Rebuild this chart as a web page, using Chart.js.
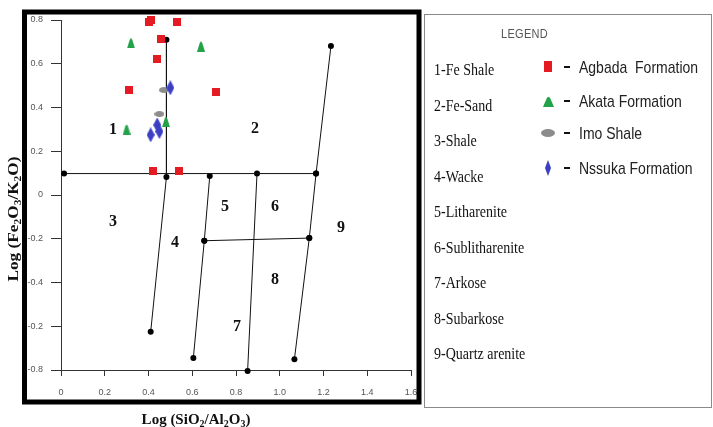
<!DOCTYPE html>
<html>
<head>
<meta charset="utf-8">
<script src="https://cdn.jsdelivr.net/npm/chart.js@4.4.1/dist/chart.umd.min.js"></script>
<style>
  body { margin: 0; background: #fff; }
  #wrap { position: relative; width: 713px; height: 427px; overflow: hidden; }
  #chart { position: absolute; left: 0; top: 0; }
  #legend { position: absolute; left: 424px; top: 14px; width: 288px; height: 394px;
            border: 1px solid #8a8a8a; box-sizing: border-box; }
  #legend div { position: absolute; white-space: nowrap; line-height: 20px; height: 20px; }
  .title { font: 11px "Liberation Sans", Arial, sans-serif; color: #555; letter-spacing: 0.3px; }
  .cls { font: 14px "Liberation Serif", "Times New Roman", serif; color: #111; }
  .ser { font: 14px "Liberation Sans", Arial, sans-serif; color: #222; }
  .stretch { display: inline-block; transform: scaleY(1.15); transform-origin: left center; }
  .dash { position: absolute; height: 2px; width: 6px; background: #111; }
  canvas.mk { position: absolute; }
</style>
</head>
<body>
<div id="wrap">
  <canvas id="chart" width="713" height="427"></canvas>
  <div id="legend"></div>
</div>
<script>
// sample points (x = log SiO2/Al2O3, y = log Fe2O3/K2O)
const agbadaX = [0.41, 0.40, 0.53, 0.455, 0.44, 0.31, 0.71, 0.42, 0.54];
const agbadaY = [0.80, 0.79, 0.79, 0.715, 0.62, 0.48, 0.47, 0.11, 0.11];
const akataX = [0.32, 0.64, 0.30, 0.48];
const akataY = [0.695, 0.68, 0.30, 0.335];
const imoX = [0.47, 0.45];
const imoY = [0.48, 0.37];
const nssukaX = [0.50, 0.44, 0.45, 0.41];
const nssukaY = [0.49, 0.32, 0.29, 0.275];

// classification field boundaries
const feLineX = [0.014, 1.166];
const feLineY = [0.098, 0.098];
const shaleLineX = [0.482, 0.482, 0.41];
const shaleLineY = [0.71, 0.082, -0.625];
const wackeLineX = [0.68, 0.655, 0.605];
const wackeLineY = [0.087, -0.209, -0.745];
const arkoseLineX = [0.896, 0.853];
const arkoseLineY = [0.098, -0.805];
const quartzLineX = [1.234, 1.166, 1.135, 1.067];
const quartzLineY = [0.681, 0.098, -0.197, -0.751];
const subLineX = [0.655, 1.135];
const subLineY = [-0.209, -0.197];

// field numbers
const regionNames = ['1', '2', '3', '4', '5', '6', '7', '8', '9'];
const regionX = [0.238, 0.887, 0.238, 0.521, 0.75, 0.978, 0.805, 0.978, 1.28];
const regionY = [0.297, 0.302, -0.123, -0.219, -0.055, -0.055, -0.603, -0.389, -0.151];

// tick labels as printed (bottom to top for y)
const xTickLabels = ['0', '0.2', '0.4', '0.6', '0.8', '1.0', '1.2', '1.4', '1.6'];
const yTickLabels = ['-0.8', '-0.2', '-0.4', '-0.2', '0', '0.2', '0.4', '0.6', '0.8'];

const xTitle = 'Log (SiO_2/Al_2O_3)';
const yTitle = 'Log (Fe_2O_3/K_2O)';

const classNames = ['1-Fe Shale', '2-Fe-Sand', '3-Shale', '4-Wacke', '5-Litharenite',
  '6-Sublitharenite', '7-Arkose', '8-Subarkose', '9-Quartz arenite'];
const seriesNames = ['Agbada  Formation', 'Akata Formation', 'Imo Shale', 'Nssuka Formation'];

const colors = { square: '#e51b24', triangle: '#23a24a', ellipse: '#8c8c8c', diamond: '#3b3fc3' };

// small canvases used as point styles
function markerCanvas(kind, w, h) {
  const c = document.createElement('canvas');
  c.width = w; c.height = h;
  const g = c.getContext('2d');
  g.fillStyle = colors[kind];
  g.beginPath();
  if (kind === 'square') {
    g.rect(0, 0, w, h);
  } else if (kind === 'triangle') {
    g.moveTo(0, h);
    g.lineTo(w * 0.33, h * 0.22);
    g.quadraticCurveTo(w / 2, -h * 0.08, w * 0.67, h * 0.22);
    g.lineTo(w, h);
    g.closePath();
  } else if (kind === 'ellipse') {
    g.ellipse(w / 2, h / 2, w / 2, h / 2, 0, 0, Math.PI * 2);
  } else {
    g.moveTo(w / 2, 0); g.lineTo(w, h / 2); g.lineTo(w / 2, h); g.lineTo(0, h / 2);
    g.closePath();
  }
  g.fill();
  return c;
}

function toPoints(xs, ys) {
  return xs.map((x, i) => ({ x: x, y: ys[i] }));
}

function sampleSet(label, xs, ys, style) {
  return { label: label, data: toPoints(xs, ys), pointStyle: style, pointRadius: 5,
           clip: false, showLine: false };
}

function boundarySet(xs, ys) {
  return { label: 'boundary', data: toPoints(xs, ys), showLine: true, borderColor: '#111',
           borderWidth: 1, pointRadius: 3, pointBackgroundColor: '#000', pointBorderWidth: 0,
           clip: false };
}

// draws text where "_x" means x is a subscript
function drawRich(ctx, text, cx, cy, size) {
  const segs = [];
  for (let i = 0; i < text.length; i++) {
    if (text[i] === '_') { segs.push({ t: text[i + 1], sub: true }); i++; }
    else if (segs.length && !segs[segs.length - 1].sub) segs[segs.length - 1].t += text[i];
    else segs.push({ t: text[i], sub: false });
  }
  const big = 'bold ' + size + 'px "Liberation Serif", serif';
  const small = 'bold ' + Math.round(size * 0.68) + 'px "Liberation Serif", serif';
  let w = 0;
  segs.forEach(s => { ctx.font = s.sub ? small : big; s.w = ctx.measureText(s.t).width; w += s.w; });
  let x = cx - w / 2;
  ctx.textAlign = 'left';
  ctx.textBaseline = 'middle';
  segs.forEach(s => {
    ctx.font = s.sub ? small : big;
    ctx.fillText(s.t, x, s.sub ? cy + size * 0.28 : cy);
    x += s.w;
  });
}

const decorPlugin = {
  id: 'decor',
  afterDatasetsDraw(chart) {
    const ctx = chart.ctx;
    const xs = chart.scales.x, ys = chart.scales.y;
    ctx.save();
    ctx.fillStyle = '#111';
    ctx.font = 'bold 16px "Liberation Serif", serif';
    ctx.textAlign = 'center';
    ctx.textBaseline = 'middle';
    regionNames.forEach((n, i) => {
      ctx.fillText(n, xs.getPixelForValue(regionX[i]), ys.getPixelForValue(regionY[i]));
    });
    ctx.restore();
  },
  afterDraw(chart) {
    const ctx = chart.ctx;
    const a = chart.chartArea;
    ctx.save();
    // heavy frame round the plot
    ctx.strokeStyle = '#000';
    ctx.lineWidth = 5;
    ctx.strokeRect(24.5, 12, 394.5, 390);
    // axis titles
    ctx.fillStyle = '#111';
    drawRich(ctx, xTitle, (a.left + a.right) / 2 - 40, 420, 15);
    ctx.translate(14, (a.top + a.bottom) / 2 + 24);
    ctx.rotate(-Math.PI / 2);
    ctx.scale(1.15, 1);
    drawRich(ctx, yTitle, 0, 0, 15);
    ctx.restore();
  }
};

const tickFont = { family: '"Liberation Sans", Arial, sans-serif', size: 9 };

new Chart(document.getElementById('chart').getContext('2d'), {
  type: 'scatter',
  data: {
    datasets: [
      sampleSet(seriesNames[0], agbadaX, agbadaY, markerCanvas('square', 8, 8)),
      sampleSet(seriesNames[1], akataX, akataY, markerCanvas('triangle', 8, 11)),
      sampleSet(seriesNames[3], nssukaX, nssukaY, markerCanvas('diamond', 8, 15)),
      sampleSet(seriesNames[2], imoX, imoY, markerCanvas('ellipse', 10, 6)),
      boundarySet(feLineX, feLineY),
      boundarySet(shaleLineX, shaleLineY),
      boundarySet(wackeLineX, wackeLineY),
      boundarySet(arkoseLineX, arkoseLineY),
      boundarySet(quartzLineX, quartzLineY),
      boundarySet(subLineX, subLineY)
    ]
  },
  options: {
    responsive: false,
    animation: false,
    layout: { padding: { top: 20, right: 302, bottom: 0, left: 0 } },
    plugins: { legend: { display: false }, tooltip: { enabled: false } },
    scales: {
      x: {
        type: 'linear', min: 0, max: 1.6,
        ticks: { stepSize: 0.2, autoSkip: false, maxRotation: 0, padding: 11, color: '#555',
                 font: tickFont, callback: (v, i) => xTickLabels[i] },
        grid: { drawOnChartArea: false, tickLength: 6, color: '#333' },
        border: { color: '#333', width: 1 },
        afterFit: s => { s.height = 57; }
      },
      y: {
        type: 'linear', min: -0.8, max: 0.8,
        ticks: { stepSize: 0.2, autoSkip: false, padding: 8, color: '#555',
                 font: tickFont, callback: (v, i) => yTickLabels[i] },
        grid: { drawOnChartArea: false, tickLength: 10, color: '#333' },
        border: { color: '#333', width: 1 },
        afterFit: s => { s.width = 61; }
      }
    }
  },
  plugins: [decorPlugin]
});

// legend box on the right
const legend = document.getElementById('legend');
function addDiv(cls, html, left, centerY) {
  const d = document.createElement('div');
  d.className = cls;
  d.style.left = left + 'px';
  d.style.top = (centerY - 10) + 'px';
  d.innerHTML = '<span class="stretch">' + html + '</span>';
  legend.appendChild(d);
}
addDiv('title', 'LEGEND', 76, 18);
classNames.forEach((n, i) => addDiv('cls', n, 9, 55 + i * 35.5));

const legendMarks = [['square', 8, 11], ['triangle', 11, 11], ['ellipse', 14, 8], ['diamond', 6, 16]];
const seriesRows = [51.7, 86, 118, 152.7];
seriesNames.forEach((n, i) => {
  const m = legendMarks[i];
  const c = markerCanvas(m[0], m[1], m[2]);
  c.className = 'mk';
  c.style.left = (123 - m[1] / 2) + 'px';
  c.style.top = (seriesRows[i] - m[2] / 2) + 'px';
  legend.appendChild(c);
  const d = document.createElement('span');
  d.className = 'dash';
  d.style.left = '139px';
  d.style.top = (seriesRows[i] - 1) + 'px';
  legend.appendChild(d);
  addDiv('ser', n.replace('  ', '&nbsp; '), 154, seriesRows[i]);
});
</script>
</body>
</html>
